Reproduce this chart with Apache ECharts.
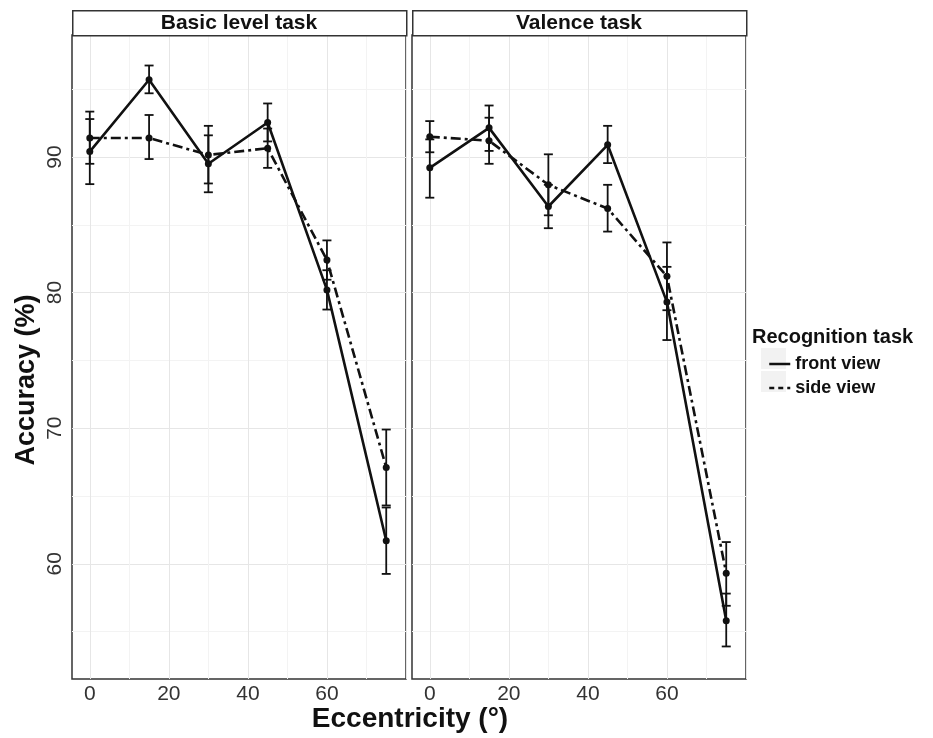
<!DOCTYPE html>
<html><head><meta charset="utf-8">
<script src="https://cdn.jsdelivr.net/npm/echarts@6/dist/echarts.min.js"></script>
<style>html,body{margin:0;padding:0;background:#fff}#c{width:933px;height:738px}</style>
</head><body><div id="c"></div>
<script>
// ---- data ----
const eccentricity = [0, 15, 30, 45, 60, 75];
const panels = ['Basic level task', 'Valence task'];
const conditions = ['front view', 'side view'];
const xTickLabels = [0, 20, 40, 60];
const yTickLabels = [60, 70, 80, 90];

const basicFront   = [90.4, 95.7, 89.5, 92.55, 80.2, 61.7];
const basicFrontLo = [88.0, 94.7, 87.4, 91.15, 78.75, 59.25];
const basicFrontHi = [92.8, 96.75, 91.6, 93.95, 81.65, 64.15];
const basicSide    = [91.4, 91.4, 90.15, 90.65, 82.4, 67.1];
const basicSideLo  = [89.5, 89.85, 88.05, 89.2, 80.95, 64.3];
const basicSideHi  = [93.35, 93.1, 92.3, 92.1, 83.85, 69.9];

const valenceFront   = [89.2, 92.15, 86.35, 90.9, 79.3, 55.8];
const valenceFrontLo = [87.0, 90.45, 84.75, 89.55, 76.5, 53.9];
const valenceFrontHi = [91.3, 93.8, 87.95, 92.3, 81.9, 57.8];
const valenceSide    = [91.5, 91.2, 87.95, 86.2, 81.2, 59.3];
const valenceSideLo  = [90.35, 89.5, 85.7, 84.5, 78.7, 56.9];
const valenceSideHi  = [92.65, 92.9, 90.2, 87.95, 83.7, 61.6];

const panelData = [
  [[basicFront, basicFrontLo, basicFrontHi], [basicSide, basicSideLo, basicSideHi]],
  [[valenceFront, valenceFrontLo, valenceFrontHi], [valenceSide, valenceSideLo, valenceSideHi]]
];

// ---- layout / style ----
const FONT = '"Liberation Sans", Arial, sans-serif';
const INK = '#111';
const MAJOR = '#e6e6e6', MINOR = '#f3f3f3';
const X_MIN = -4.5, X_MAX = 80, Y_MIN = 51.5, Y_MAX = 99, STEP = 0.5;
const gridBoxes = [{left: 72, top: 35, width: 334, height: 644}, {left: 412, top: 35, width: 334, height: 644}];

function splitColors(min, majorEvery, minorEvery) {
  const period = Math.round(majorEvery / STEP);
  const arr = [];
  for (let i = 0; i < period; i++) {
    const v = Math.round((min + i * STEP) * 100) / 100;
    const m = ((v % majorEvery) + majorEvery) % majorEvery;
    if (Math.abs(m) < 1e-6) arr.push(MAJOR);
    else if (Math.abs(((v % minorEvery) + minorEvery) % minorEvery) < 1e-6) arr.push(MINOR);
    else arr.push('rgba(0,0,0,0)');
  }
  return arr;
}
const xColors = splitColors(X_MIN, 20, 10);
const yColors = splitColors(Y_MIN, 10, 5);

const grids = [], xAxes = [], yAxes = [], series = [];
panels.forEach((p, pi) => {
  grids.push(Object.assign({show: true, borderColor: '#333', borderWidth: 1.5, backgroundColor: '#fff', containLabel: false}, gridBoxes[pi]));
  xAxes.push({
    type: 'value', gridIndex: pi, min: X_MIN, max: X_MAX, interval: STEP,
    axisLine: {show: false}, axisTick: {show: false},
    splitLine: {show: true, lineStyle: {color: xColors, width: 1}},
    axisLabel: {
      margin: 5, fontSize: 21, color: '#333', fontFamily: FONT,
      formatter: v => xTickLabels.includes(Math.round(v * 100) / 100) ? String(Math.round(v)) : ''
    }
  });
  yAxes.push({
    type: 'value', gridIndex: pi, min: Y_MIN, max: Y_MAX, interval: STEP,
    axisLine: {show: false}, axisTick: {show: false},
    splitLine: {show: true, lineStyle: {color: yColors, width: 1}},
    axisLabel: {
      show: pi === 0, rotate: 90, margin: 6, fontSize: 21, color: '#333', fontFamily: FONT,
      formatter: v => yTickLabels.includes(Math.round(v * 100) / 100) ? String(Math.round(v)) : ''
    }
  });
  conditions.forEach((c, ci) => {
    const [vals, lo, hi] = panelData[pi][ci];
    series.push({
      name: c + ' error', type: 'custom', xAxisIndex: pi, yAxisIndex: pi, z: 2,
      data: eccentricity.map((x, i) => [x, lo[i], hi[i]]),
      renderItem: (params, api) => {
        const x = api.value(0);
        const a = api.coord([x, api.value(1)]);
        const b = api.coord([x, api.value(2)]);
        const hw = 4.5;
        const st = {stroke: INK, lineWidth: 1.8};
        return {type: 'group', children: [
          {type: 'line', shape: {x1: a[0], y1: a[1], x2: b[0], y2: b[1]}, style: st},
          {type: 'line', shape: {x1: a[0] - hw, y1: a[1], x2: a[0] + hw, y2: a[1]}, style: st},
          {type: 'line', shape: {x1: b[0] - hw, y1: b[1], x2: b[0] + hw, y2: b[1]}, style: st}
        ]};
      }
    });
    series.push({
      name: c, type: 'line', xAxisIndex: pi, yAxisIndex: pi, z: 3,
      data: eccentricity.map((x, i) => [x, vals[i]]),
      symbol: 'circle', symbolSize: 7, showSymbol: true,
      itemStyle: {color: INK},
      lineStyle: {color: INK, width: 2.6, type: ci === 0 ? 'solid' : [10, 4, 3, 4]}
    });
  });
});

const graphics = [];
panels.forEach((p, pi) => {
  const g = gridBoxes[pi];
  graphics.push({type: 'rect', left: g.left, top: 10, shape: {width: g.width, height: 25},
    style: {fill: '#fff', stroke: '#333', lineWidth: 1.5}, z: 10});
  graphics.push({type: 'text', x: g.left + g.width / 2, y: 23, z: 11,
    style: {text: p, font: 'bold 21px ' + FONT, fill: INK, textAlign: 'center', textVerticalAlign: 'middle'}});
});
graphics.push({type: 'text', x: 27, y: 380, rotation: Math.PI / 2, z: 11,
  style: {text: 'Accuracy (%)', font: 'bold 27px ' + FONT, fill: INK, textAlign: 'center', textVerticalAlign: 'middle'}});
graphics.push({type: 'text', x: 410, y: 719, z: 11,
  style: {text: 'Eccentricity (°)', font: 'bold 28px ' + FONT, fill: INK, textAlign: 'center', textVerticalAlign: 'middle'}});
graphics.push({type: 'text', x: 752, y: 337, z: 11,
  style: {text: 'Recognition task', font: 'bold 20px ' + FONT, fill: INK, textAlign: 'left', textVerticalAlign: 'middle'}});
graphics.push({type: 'rect', left: 761, top: 348, shape: {width: 25, height: 21}, style: {fill: '#f2f2f2'}, z: 0});
graphics.push({type: 'rect', left: 761, top: 371, shape: {width: 25, height: 21}, style: {fill: '#f2f2f2'}, z: 0});

const chart = echarts.init(document.getElementById('c'), null, {renderer: 'canvas'});
chart.setOption({
  animation: false,
  backgroundColor: '#fff',
  grid: grids, xAxis: xAxes, yAxis: yAxes, series: series,
  legend: {
    orient: 'vertical', left: 763, top: 350, itemWidth: 21, itemHeight: 17, itemGap: 6,
    selectedMode: false,
    itemStyle: {opacity: 0},
    data: [
      {name: 'front view', lineStyle: {type: 'solid', width: 2.5, color: INK}},
      {name: 'side view', lineStyle: {type: [5, 4], width: 2.5, color: INK}}
    ],
    textStyle: {fontSize: 18, fontWeight: 'bold', color: INK, fontFamily: FONT}
  },
  graphic: graphics
});
</script></body></html>
